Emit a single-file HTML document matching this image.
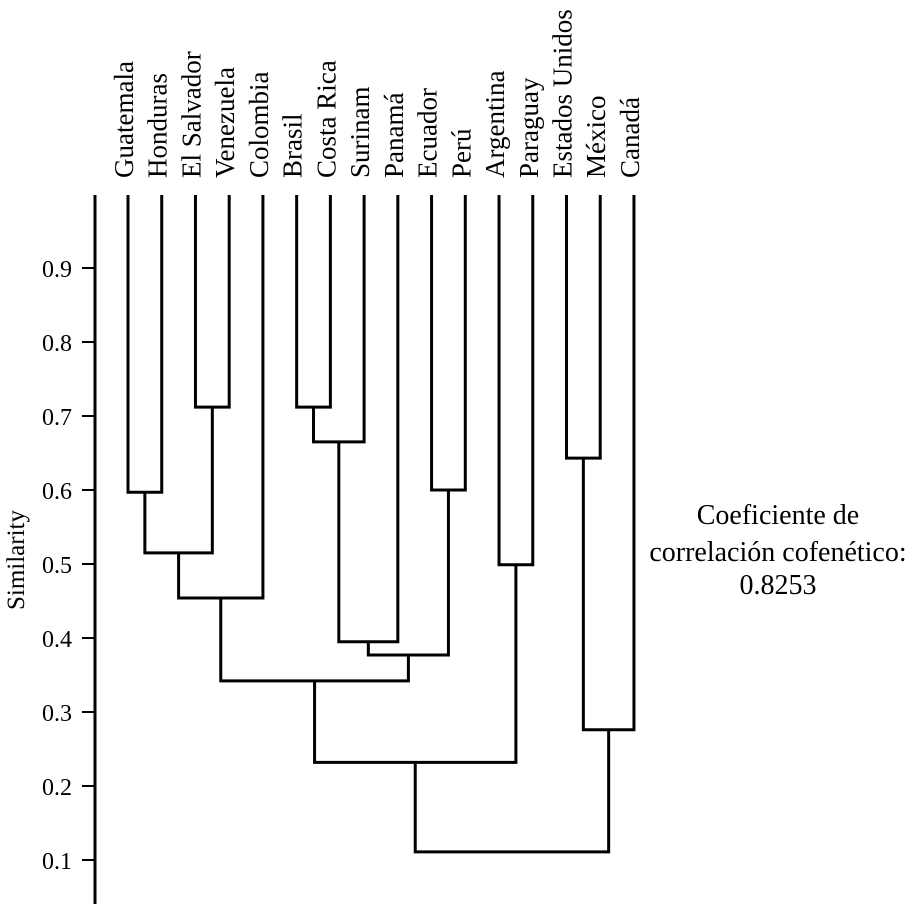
<!DOCTYPE html>
<html><head><meta charset="utf-8"><style>
body{margin:0;background:#fff;}
svg{display:block;font-family:"Liberation Serif",serif;}
</style></head><body>
<svg id="chart" width="914" height="904" viewBox="0 0 914 904" xmlns="http://www.w3.org/2000/svg">
<g id="axis"></g>
<g id="links" stroke="#000" stroke-width="3" fill="none"></g>
<g id="labels"></g>
<text transform="translate(24,560) rotate(-90)" text-anchor="middle" font-size="25">Similarity</text>
<g font-size="28" text-anchor="middle">
<text x="778" y="524">Coeficiente de</text>
<text x="778" y="561">correlación cofenético:</text>
<text x="778" y="594">0.8253</text>
</g>
</svg>
<script>
const leaves = ["Guatemala","Honduras","El Salvador","Venezuela","Colombia","Brasil","Costa Rica","Surinam","Panamá","Ecuador","Perú","Argentina","Paraguay","Estados Unidos","México","Canadá"];
// merges: [childA, childB, similarity]; leaf indices 0..15, merged nodes 16+
const mergeA = [0, 2, 16, 18, 5, 20, 21, 9, 22, 19, 11, 25, 13, 28];
const mergeB = [1, 3, 17, 4, 6, 7, 8, 10, 23, 24, 12, 26, 14, 15];
const mergeSim = [0.597, 0.712, 0.515, 0.454, 0.712, 0.665, 0.395, 0.600, 0.377, 0.342, 0.499, 0.232, 0.643, 0.276];
const rootSim = 0.111;
const ticks = [0.1,0.2,0.3,0.4,0.5,0.6,0.7,0.8,0.9];

const NS="http://www.w3.org/2000/svg";
const y = v => 860 - (v-0.1)*740;
const lx = i => 128 + i*33.73;
const leafTop = 195;

const axis=document.getElementById('axis');
let ax=document.createElementNS(NS,'line');
ax.setAttribute('x1',95);ax.setAttribute('x2',95);ax.setAttribute('y1',195);ax.setAttribute('y2',904);
ax.setAttribute('stroke','#000');ax.setAttribute('stroke-width',3);


axis.appendChild(ax);
ticks.forEach(t=>{
  const l=document.createElementNS(NS,'line');
  l.setAttribute('x1',82);l.setAttribute('x2',95);l.setAttribute('y1',y(t));l.setAttribute('y2',y(t));
  l.setAttribute('stroke','#000');l.setAttribute('stroke-width',2);
  
  
  axis.appendChild(l);
  const tx=document.createElementNS(NS,'text');
  tx.setAttribute('x',72);tx.setAttribute('y',y(t)+9);tx.setAttribute('text-anchor','end');tx.setAttribute('font-size','24');
  tx.textContent=t.toFixed(1);
  
  
  axis.appendChild(tx);
});

const nodeX=[], nodeY=[];
leaves.forEach((n,i)=>{nodeX[i]=lx(i);nodeY[i]=leafTop;});
const links=document.getElementById('links');
function link(a,b,s,name){
  const yy=y(s);
  const p=document.createElementNS(NS,'path');
  p.setAttribute('d',`M${nodeX[a]},${nodeY[a]}V${yy}H${nodeX[b]}V${nodeY[b]}`);
  
  
  links.appendChild(p);
  return yy;
}
mergeA.forEach((a,k)=>{
  const b=mergeB[k];
  const yy=link(a,b,mergeSim[k],'merge-link');
  nodeX[16+k]=(nodeX[a]+nodeX[b])/2; nodeY[16+k]=yy;
});
link(27,29,rootSim,'root-link');

const lab=document.getElementById('labels');
leaves.forEach((n,i)=>{
  const t=document.createElementNS(NS,'text');
  t.setAttribute('transform',`translate(${lx(i)+5},178) rotate(-90)`);
  t.setAttribute('font-size','27');
  t.textContent=n;
  
  
  lab.appendChild(t);
});
</script>
</body></html>
